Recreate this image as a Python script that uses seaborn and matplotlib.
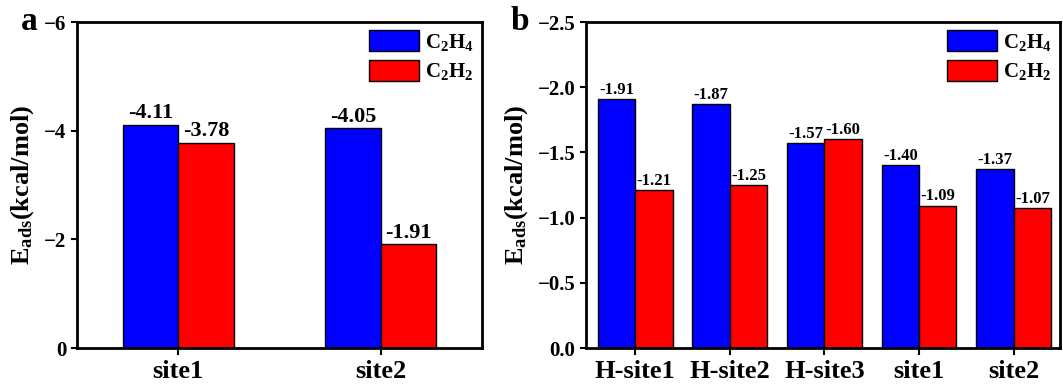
import matplotlib
matplotlib.use("Agg")
import matplotlib.pyplot as plt
import seaborn as sns
import pandas as pd
from matplotlib.patches import Patch

# ---- data ----
sites_a = ["site1", "site2"]
c2h4_a = [-4.11, -4.05]
c2h2_a = [-3.78, -1.91]

sites_b = ["H-site1", "H-site2", "H-site3", "site1", "site2"]
c2h4_b = [-1.91, -1.87, -1.57, -1.40, -1.37]
c2h2_b = [-1.21, -1.25, -1.60, -1.09, -1.07]

series = ["C$_2$H$_4$", "C$_2$H$_2$"]
colors = ["#0000FF", "#FF0000"]

sns.set_theme(style="ticks")
plt.rcParams["font.family"] = ["Liberation Serif", "DejaVu Serif"]
plt.rcParams["font.weight"] = "bold"
plt.rcParams["mathtext.fontset"] = "custom"
plt.rcParams["mathtext.rm"] = "Liberation Serif:bold"
plt.rcParams["mathtext.it"] = "Liberation Serif:bold"
plt.rcParams["mathtext.bf"] = "Liberation Serif:bold"
plt.rcParams["axes.unicode_minus"] = True
for k in ["text.color", "axes.labelcolor", "xtick.color", "ytick.color",
          "axes.edgecolor"]:
    plt.rcParams[k] = "black"


def long_df(sites, s1, s2):
    return pd.DataFrame({
        "site": sites * 2,
        "E": list(s1) + list(s2),
        "species": [series[0]] * len(sites) + [series[1]] * len(sites),
    })


fig = plt.figure(figsize=(10.63, 3.87), dpi=100)
W, H = 1063, 387
ax_a = fig.add_axes([77 / W, (H - 348) / H, (482 - 77) / W, (348 - 22) / H])
ax_b = fig.add_axes([586 / W, (H - 348) / H, (1060 - 586) / W, (348 - 22) / H])


def draw(ax, sites, s1, s2, width, ylim, yticks, ytl, label_fs, xlim, letter, lx):
    df = long_df(sites, s1, s2)
    sns.barplot(data=df, x="site", y="E", hue="species", palette=colors,
                width=width, errorbar=None, edgecolor="black", linewidth=1.0,
                saturation=1, ax=ax, legend=False)
    ax.set_ylim(*ylim)
    ax.set_yticks(yticks)
    ax.set_yticklabels(ytl)
    ax.set_xlim(*xlim)
    for cont in ax.containers:
        ax.bar_label(cont, fmt="%.2f", padding=1, fontsize=label_fs,
                     fontweight="bold", color="black")
    ax.set_xlabel("")
    ax.set_ylabel("E$_{\\mathregular{ads}}$(kcal/mol)", fontsize=19,
                  fontweight="bold", labelpad=6, color="black")
    ax.tick_params(axis="x", labelsize=19, direction="out", length=5, width=1.5,
                   colors="black")
    ax.tick_params(axis="y", labelsize=15, direction="out", length=4, width=1.5,
                   colors="black")
    for lab in ax.get_xticklabels() + ax.get_yticklabels():
        lab.set_fontweight("bold")
    for sp in ax.spines.values():
        sp.set_visible(True)
        sp.set_linewidth(2)
        sp.set_color("black")
    handles = [Patch(facecolor=c, edgecolor="black", linewidth=1.0, label=s)
               for c, s in zip(colors, series)]
    ax.legend(handles=handles, loc="upper right", frameon=False, fontsize=15,
              handlelength=2.4, handleheight=1.15, handletextpad=0.3,
              labelspacing=0.35, borderaxespad=0.2, borderpad=0.2,
              labelcolor="black")
    ax.text(lx, 1.0, letter, transform=ax.transAxes,
            fontsize=24, fontweight="bold", ha="right", va="center",
            color="black")


draw(ax_a, sites_a, c2h4_a, c2h2_a, 0.55, (0, -6), [0, -2, -4, -6],
     ["0", "\u22122", "\u22124", "\u22126"], 16, (-0.5, 1.5), "a", -0.098)
draw(ax_b, sites_b, c2h4_b, c2h2_b, 0.79, (0, -2.5),
     [0, -0.5, -1.0, -1.5, -2.0, -2.5],
     ["0.0", "\u22120.5", "\u22121.0", "\u22121.5", "\u22122.0", "\u22122.5"],
     12, (-0.52, 4.49), "b", -0.12)

fig.savefig("out.png", dpi=100)
